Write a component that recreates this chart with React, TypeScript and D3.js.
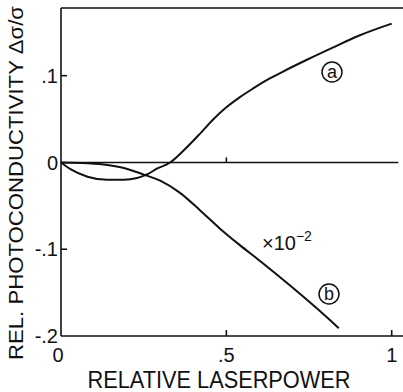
import React from "react";
import * as d3 from "d3";

// curve a
const aX = [0, 0.03, 0.08, 0.14, 0.19, 0.23, 0.26, 0.29, 0.33, 0.37, 0.42, 0.46, 0.5, 0.54, 0.58, 0.63, 0.67, 0.75, 0.82, 0.9, 1.0];
const aY = [0, -0.008, -0.0164, -0.02, -0.02, -0.018, -0.0138, -0.0072, 0, 0.0135, 0.033, 0.0495, 0.0635, 0.075, 0.085, 0.0965, 0.1045, 0.1195, 0.132, 0.146, 0.16];

// curve b (x10^-2)
const bX = [0, 0.08, 0.14, 0.19, 0.245, 0.3, 0.36, 0.42, 0.48, 0.54, 0.6, 0.69, 0.77, 0.84];
const bY = [0, -0.001, -0.003, -0.0064, -0.0133, -0.021, -0.035, -0.055, -0.076, -0.095, -0.113, -0.141, -0.167, -0.191];

const xTicks = [0, 0.5, 1];
const xTickLabels = ["0", ".5", "1"];
const yTicks = [0.1, 0, -0.1, -0.2];
const yTickLabels = [".1", "0", "-.1", "-.2"];

const width = 403;
const height = 392;
const font = "'Liberation Sans', Arial, sans-serif";

export default function App() {
  const x = d3.scaleLinear([0, 1], [61, 391.7]);
  const y = d3.scaleLinear([-0.2, 0.178], [336, 8]);

  const line = d3
    .line<[number, number]>()
    .x((d) => x(d[0]))
    .y((d) => y(d[1]))
    .curve(d3.curveMonotoneX);

  const aPts = aX.map((v, i) => [v, aY[i]] as [number, number]);
  const bPts = bX.map((v, i) => [v, bY[i]] as [number, number]);

  const xMax = x(1.035);

  return (
    <svg width={width} height={height} style={{ position: "absolute", left: 0, top: 0, background: "#fff" }}>
      {/* frame: left axis, top line, bottom axis */}
      <g stroke="#111" strokeWidth={1.6} fill="none">
        <line x1={x(0)} x2={x(0)} y1={y(0.178)} y2={y(-0.2)} />
        <line x1={x(0)} x2={xMax} y1={y(0.178)} y2={y(0.178)} />
        <line x1={x(0)} x2={xMax} y1={y(-0.2)} y2={y(-0.2)} />
        <line x1={x(0)} x2={x(1.02)} y1={y(0)} y2={y(0)} />
        {[0.1, -0.1].map((t) => (
          <line key={t} x1={x(0)} x2={x(0) + 6} y1={y(t)} y2={y(t)} />
        ))}
        {[0.5, 1].map((t) => (
          <line key={"b" + t} x1={x(t)} x2={x(t)} y1={y(-0.2)} y2={y(-0.2) - 6} />
        ))}
        <line x1={x(0.5)} x2={x(0.5)} y1={y(0)} y2={y(0) - 5} />
      </g>

      <g fill="none" stroke="#111" strokeWidth={2}>
        <path d={line(aPts)!} />
        <path d={line(bPts)!} />
      </g>

      {/* tick labels */}
      <g fontFamily={font} fontSize={20} fill="#111">
        {yTicks.map((t, i) => (
          <text key={t} x={58} y={y(t)} dy="0.36em" textAnchor="end">
            {yTickLabels[i]}
          </text>
        ))}
        {xTicks.map((t, i) => (
          <text key={t} x={x(t) - (t === 0 ? 3 : 0)} y={362} textAnchor="middle">
            {xTickLabels[i]}
          </text>
        ))}
      </g>

      {/* axis titles */}
      <text
        x={0}
        y={0}
        transform="translate(23,183) rotate(-90)"
        textAnchor="middle"
        fontFamily={font}
        fontSize={21}
        textLength={354}
        lengthAdjust="spacingAndGlyphs"
        fill="#111"
      >
        REL. PHOTOCONDUCTIVITY Δσ/σ
      </text>
      <text
        x={219}
        y={388}
        textAnchor="middle"
        fontFamily={font}
        fontSize={23}
        textLength={263}
        lengthAdjust="spacingAndGlyphs"
        fill="#111"
      >
        RELATIVE LASERPOWER
      </text>

      {/* annotations */}
      <g fontFamily={font} fill="#111">
        <circle cx={332} cy={72} r={10} fill="none" stroke="#111" strokeWidth={1.5} />
        <text x={332} y={72} dy="0.36em" textAnchor="middle" fontSize={18}>a</text>
        <circle cx={329} cy={294} r={10} fill="none" stroke="#111" strokeWidth={1.5} />
        <text x={329} y={294} dy="0.36em" textAnchor="middle" fontSize={18}>b</text>
        <text x={262} y={250} fontSize={20}>
          ×10<tspan dy={-9} fontSize={14}>−2</tspan>
        </text>
      </g>
    </svg>
  );
}
